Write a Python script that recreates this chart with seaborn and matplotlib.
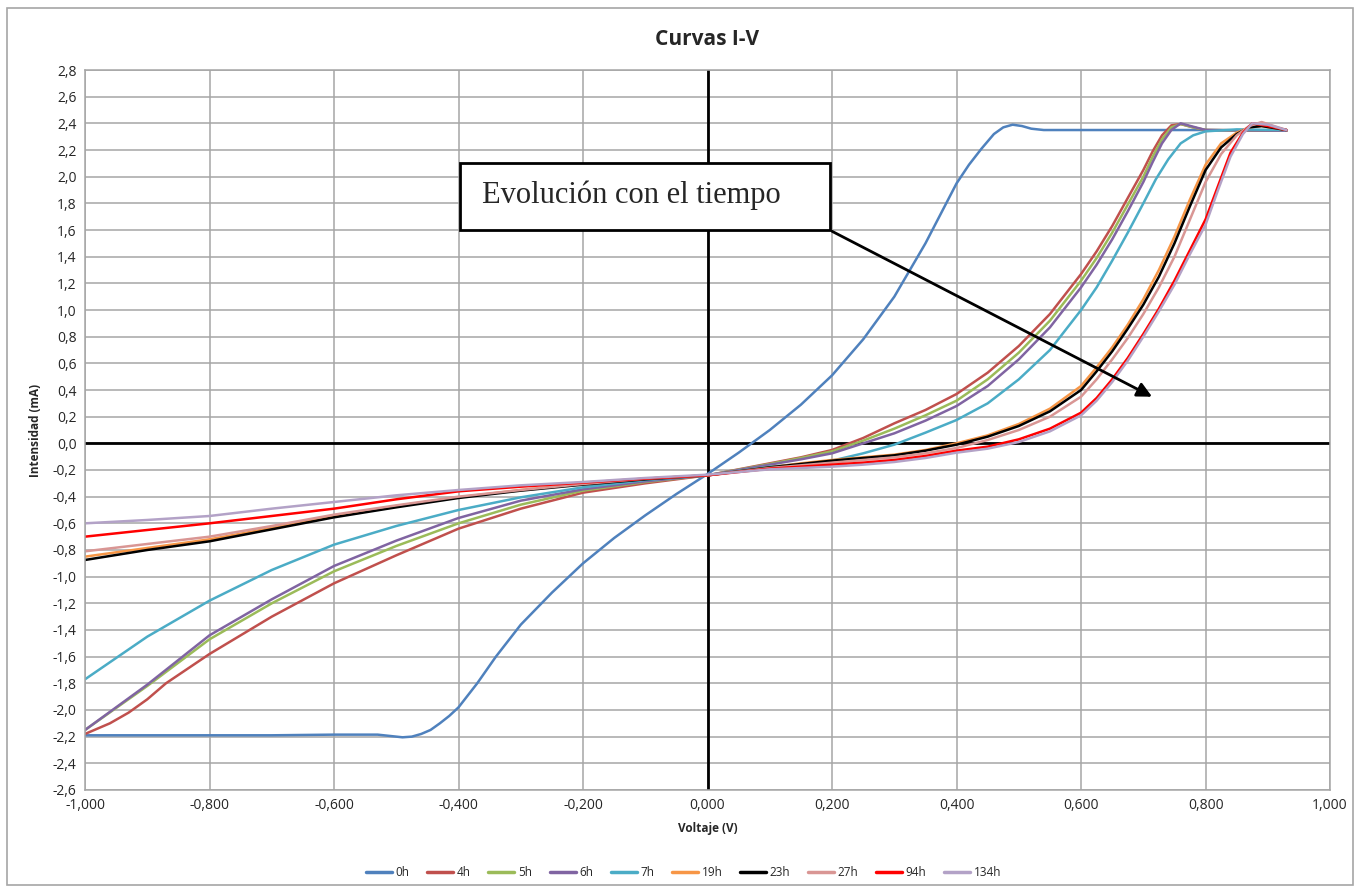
import pandas as pd
import seaborn as sns
import matplotlib.pyplot as plt
from matplotlib.patches import Rectangle
from matplotlib.ticker import FuncFormatter, MultipleLocator

# --- valores (Voltaje en V, Intensidad en mA) ---
v_0h = [-1.0, -0.9, -0.8, -0.7, -0.6, -0.53, -0.51, -0.49, -0.475, -0.46, -0.445, -0.43, -0.415,
        -0.40, -0.37, -0.34, -0.30, -0.25, -0.20, -0.15, -0.10, -0.05, 0.0, 0.05, 0.10, 0.15,
        0.20, 0.25, 0.30, 0.35, 0.40, 0.42, 0.44, 0.46, 0.475, 0.49, 0.505, 0.52, 0.54,
        0.60, 0.70, 0.80, 0.93]
i_0h = [-2.19, -2.19, -2.19, -2.19, -2.185, -2.185, -2.195, -2.205, -2.20, -2.18, -2.15, -2.10, -2.045,
        -1.98, -1.80, -1.60, -1.36, -1.12, -0.90, -0.71, -0.54, -0.38, -0.23, -0.07, 0.10, 0.29,
        0.51, 0.78, 1.10, 1.50, 1.95, 2.09, 2.21, 2.32, 2.37, 2.39, 2.38, 2.36, 2.35,
        2.35, 2.35, 2.35, 2.345]

v_4h = [-1.0, -0.96, -0.93, -0.9, -0.87, -0.8, -0.7, -0.6, -0.5, -0.4, -0.3, -0.2, -0.1,
        0.0, 0.1, 0.15, 0.2, 0.25, 0.3, 0.35, 0.40, 0.45, 0.50, 0.55, 0.60, 0.625, 0.65,
        0.675, 0.70, 0.715, 0.73, 0.745, 0.76, 0.78, 0.80, 0.93]
i_4h = [-2.18, -2.10, -2.02, -1.92, -1.80, -1.58, -1.30, -1.05, -0.84, -0.64, -0.49, -0.37, -0.30,
        -0.24, -0.15, -0.105, -0.05, 0.04, 0.15, 0.25, 0.37, 0.53, 0.73, 0.97, 1.27, 1.44, 1.63,
        1.84, 2.05, 2.19, 2.31, 2.385, 2.395, 2.37, 2.35, 2.345]

v_5h_6h = [-1.0, -0.9, -0.8, -0.7, -0.6, -0.5, -0.4, -0.3, -0.2, -0.1, 0.0, 0.1, 0.15, 0.2,
           0.25, 0.3, 0.35, 0.40, 0.45, 0.50, 0.55, 0.60, 0.625, 0.65, 0.675, 0.70, 0.715,
           0.73, 0.745, 0.76, 0.78, 0.80, 0.93]
i_5h = [-2.15, -1.82, -1.47, -1.20, -0.96, -0.77, -0.60, -0.46, -0.355, -0.29, -0.24, -0.155, -0.11, -0.06,
        0.02, 0.11, 0.21, 0.32, 0.48, 0.68, 0.92, 1.22, 1.39, 1.58, 1.79, 2.00, 2.15,
        2.28, 2.37, 2.395, 2.37, 2.35, 2.345]
i_6h = [-2.15, -1.81, -1.44, -1.17, -0.92, -0.73, -0.56, -0.43, -0.345, -0.285, -0.24, -0.16, -0.12, -0.075,
        0.0, 0.075, 0.17, 0.28, 0.43, 0.63, 0.87, 1.17, 1.34, 1.53, 1.74, 1.96, 2.11,
        2.25, 2.35, 2.40, 2.375, 2.35, 2.345]

v_7h = [-1.0, -0.9, -0.8, -0.7, -0.6, -0.5, -0.4, -0.3, -0.2, -0.1, 0.0, 0.1, 0.15, 0.2,
        0.25, 0.3, 0.35, 0.40, 0.45, 0.50, 0.55, 0.60, 0.625, 0.65, 0.675, 0.70, 0.72,
        0.74, 0.76, 0.78, 0.80, 0.85, 0.93]
i_7h = [-1.77, -1.45, -1.18, -0.95, -0.76, -0.62, -0.50, -0.405, -0.33, -0.275, -0.24, -0.175, -0.155, -0.13,
        -0.075, -0.01, 0.08, 0.175, 0.30, 0.48, 0.70, 1.00, 1.17, 1.37, 1.58, 1.80, 1.98,
        2.13, 2.25, 2.31, 2.34, 2.355, 2.35]

v_19h_27h = [-1.0, -0.9, -0.8, -0.7, -0.6, -0.5, -0.4, -0.3, -0.2, -0.1, 0.0, 0.1, 0.15, 0.2,
             0.25, 0.3, 0.35, 0.40, 0.45, 0.50, 0.55, 0.60, 0.625, 0.65, 0.675, 0.70, 0.725,
             0.75, 0.775, 0.80, 0.825, 0.85, 0.87, 0.89, 0.91, 0.93]
i_19h = [-0.85, -0.785, -0.72, -0.635, -0.545, -0.47, -0.405, -0.35, -0.305, -0.265, -0.24, -0.18, -0.15, -0.125,
         -0.105, -0.085, -0.05, 0.0, 0.06, 0.145, 0.26, 0.43, 0.57, 0.72, 0.89, 1.08, 1.30,
         1.55, 1.83, 2.09, 2.25, 2.33, 2.37, 2.38, 2.365, 2.35]
i_23h = [-0.875, -0.80, -0.735, -0.645, -0.555, -0.48, -0.41, -0.355, -0.31, -0.27, -0.24, -0.18, -0.155, -0.13,
         -0.11, -0.09, -0.055, -0.01, 0.05, 0.13, 0.24, 0.40, 0.54, 0.69, 0.86, 1.04, 1.25,
         1.50, 1.78, 2.05, 2.22, 2.32, 2.37, 2.38, 2.365, 2.35]
i_27h = [-0.81, -0.755, -0.70, -0.62, -0.535, -0.465, -0.40, -0.35, -0.305, -0.265, -0.24, -0.185, -0.165, -0.145,
         -0.125, -0.105, -0.075, -0.035, 0.025, 0.10, 0.20, 0.35, 0.48, 0.63, 0.79, 0.97, 1.17,
         1.40, 1.68, 1.96, 2.17, 2.31, 2.38, 2.41, 2.38, 2.35]

v_94h_134h = [-1.0, -0.9, -0.8, -0.7, -0.6, -0.5, -0.4, -0.3, -0.2, -0.1, 0.0, 0.1, 0.15, 0.2,
              0.25, 0.3, 0.35, 0.40, 0.45, 0.50, 0.55, 0.60, 0.625, 0.65, 0.675, 0.70, 0.725,
              0.75, 0.775, 0.80, 0.82, 0.84, 0.86, 0.875, 0.90, 0.93]
i_94h = [-0.70, -0.65, -0.60, -0.545, -0.49, -0.42, -0.36, -0.325, -0.295, -0.265, -0.24, -0.19, -0.175, -0.16,
         -0.145, -0.125, -0.095, -0.055, -0.025, 0.03, 0.11, 0.23, 0.34, 0.48, 0.64, 0.82, 1.01,
         1.22, 1.45, 1.68, 1.93, 2.18, 2.33, 2.40, 2.38, 2.35]
i_134h = [-0.60, -0.575, -0.545, -0.49, -0.44, -0.39, -0.35, -0.315, -0.29, -0.26, -0.235, -0.195, -0.185, -0.175,
          -0.16, -0.14, -0.11, -0.07, -0.04, 0.01, 0.09, 0.21, 0.32, 0.46, 0.62, 0.80, 0.99,
          1.19, 1.42, 1.64, 1.90, 2.15, 2.32, 2.40, 2.39, 2.35]

series = [
    ("0h", v_0h, i_0h), ("4h", v_4h, i_4h), ("5h", v_5h_6h, i_5h), ("6h", v_5h_6h, i_6h),
    ("7h", v_7h, i_7h), ("19h", v_19h_27h, i_19h), ("23h", v_19h_27h, i_23h),
    ("27h", v_19h_27h, i_27h), ("94h", v_94h_134h, i_94h), ("134h", v_94h_134h, i_134h),
]
colores = ["#4F81BD", "#C0504D", "#9BBB59", "#8064A2", "#4BACC6",
           "#F79646", "#000000", "#D99694", "#FF0000", "#B3A2C7"]

filas = []
for nombre, v, i in series:
    for a, b in zip(v, i):
        filas.append({"serie": nombre, "Voltaje": a, "Intensidad": b})
df = pd.DataFrame(filas)
nombres = [s[0] for s in series]

sns.set_theme(style="white")
plt.rcParams['font.family'] = ['Open Sans', 'DejaVu Sans']

fig = plt.figure(figsize=(13.67, 8.91), dpi=100)
ax = fig.add_axes([0.0622, 0.1134, 0.9108, 0.808])

sns.lineplot(data=df, x="Voltaje", y="Intensidad", hue="serie", hue_order=nombres,
             palette=colores, sort=False, estimator=None, linewidth=1.8, ax=ax, legend=False)

# ejes y rejilla al estilo Excel
ax.set_xlim(-1.0, 1.0)
ax.set_ylim(-2.6, 2.8)
ax.xaxis.set_major_locator(MultipleLocator(0.2))
ax.yaxis.set_major_locator(MultipleLocator(0.2))
ax.xaxis.set_major_formatter(FuncFormatter(lambda x, p: f"{x:.3f}".replace(".", ",").replace("-0,000", "0,000")))
ax.yaxis.set_major_formatter(FuncFormatter(lambda y, p: f"{y:.1f}".replace(".", ",").replace("-0,0", "0,0")))
ax.grid(True, color="#A6A6A6", linewidth=1.1)
ax.set_axisbelow(True)
for s in ax.spines.values():
    s.set_color("#A6A6A6")
    s.set_linewidth(1.1)
ax.axhline(0, color="black", linewidth=2, zorder=1.5)
ax.axvline(0, color="black", linewidth=2, zorder=1.5)
ax.tick_params(length=0, labelsize=10, labelcolor="#262626", pad=6)

ax.set_xlabel("Voltaje (V)", fontsize=8.5, fontweight="bold", labelpad=6)
ax.set_ylabel("Intensidad (mA)", fontsize=8.5, fontweight="bold", labelpad=8)
ax.set_title("Curvas I-V", fontsize=15, fontweight="bold", pad=18)

# cuadro de texto con flecha
ax.add_patch(Rectangle((-0.397, 1.60), 0.593, 0.503, facecolor="white",
                       edgecolor="black", linewidth=2, zorder=5))
ax.text(-0.363, 1.86, "Evolución con el tiempo", fontsize=22, va="center", ha="left",
        family=["Liberation Serif", "DejaVu Serif"], zorder=6)
ax.annotate("", xy=(0.718, 0.34), xytext=(0.196, 1.60),
            arrowprops=dict(arrowstyle="-|>", color="black", lw=2, mutation_scale=22),
            zorder=6)

# leyenda inferior
handles = [plt.Line2D([0], [0], color=c, lw=2.5) for c in colores]
fig.legend(handles, nombres, loc="center", bbox_to_anchor=(0.5, 0.021), ncol=10,
           frameon=False, fontsize=8.5, handlelength=2.2, handletextpad=0.3, columnspacing=1.5)

# marco exterior del grafico
fig.patches.append(Rectangle((0.005, 0.007), 0.985, 0.984, transform=fig.transFigure,
                             fill=False, edgecolor="#A6A6A6", linewidth=1.2))

fig.savefig("out.png", dpi=100)
